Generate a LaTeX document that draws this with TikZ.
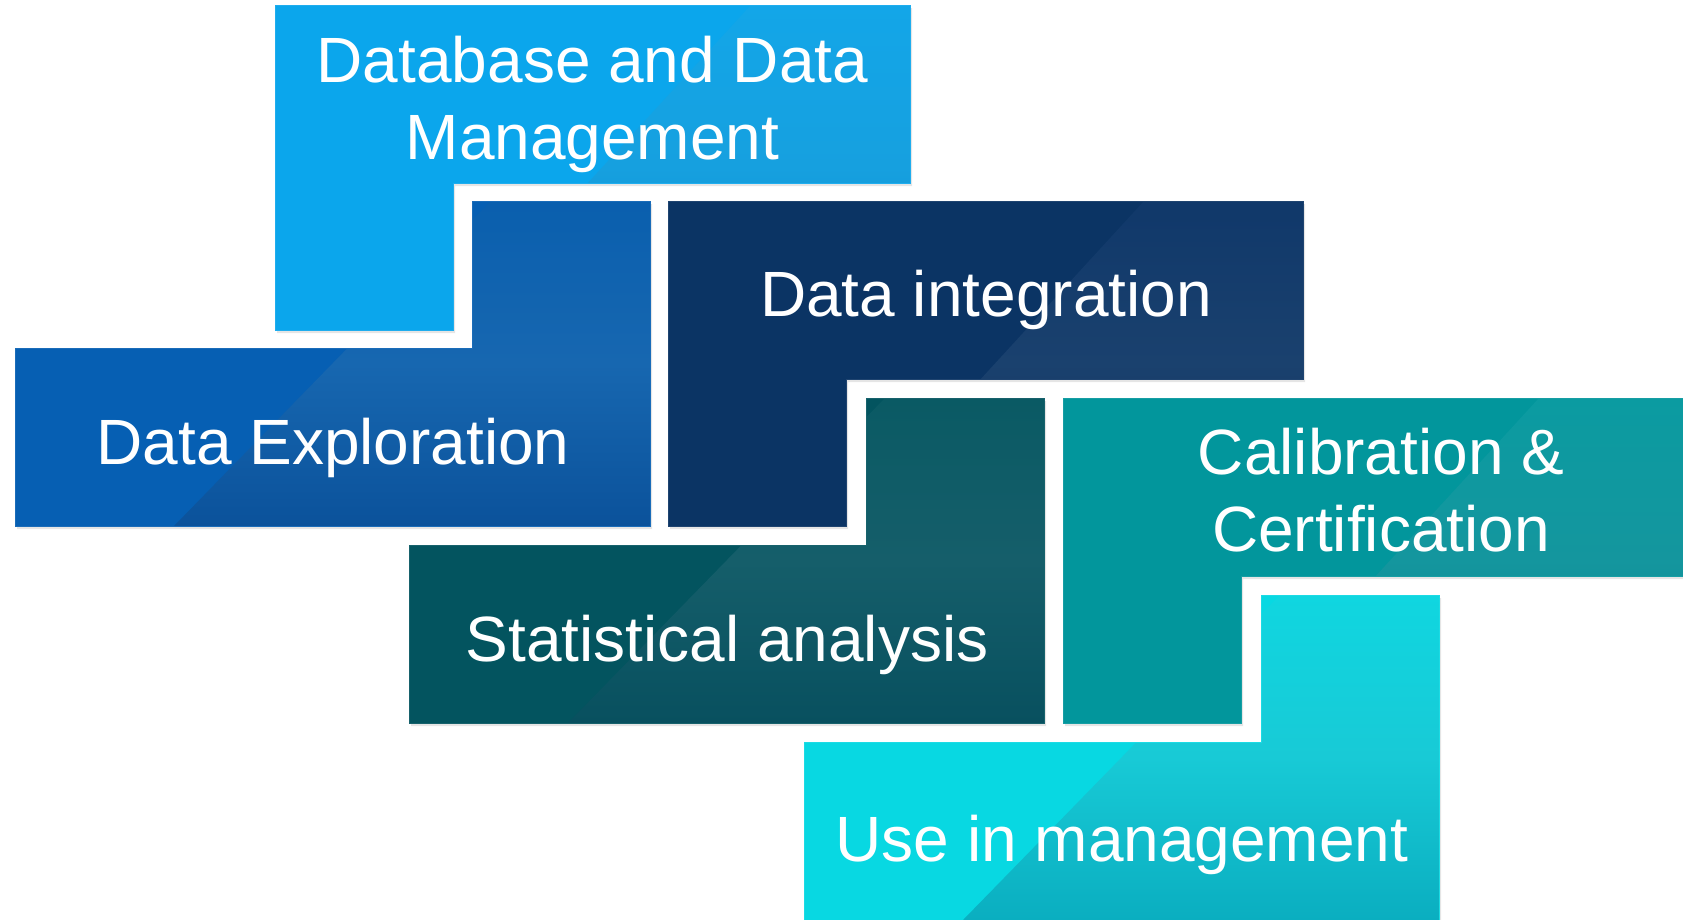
\documentclass[tikz,border=0pt]{standalone}
\usepackage{fontspec}
\setmainfont{Liberation Sans}
\usetikzlibrary{shadows}

% block colours: flat fill, then top / middle / bottom of the sheen
\definecolor{base1}{HTML}{0BA6EC}\definecolor{top1}{HTML}{13A6E8}\definecolor{mid1}{HTML}{16A0DF}\definecolor{deep1}{HTML}{0C88CB}
\definecolor{base2}{HTML}{065FB3}\definecolor{top2}{HTML}{0A5FAE}\definecolor{mid2}{HTML}{1767B0}\definecolor{deep2}{HTML}{0B529B}
\definecolor{base3}{HTML}{0B3464}\definecolor{top3}{HTML}{10386A}\definecolor{mid3}{HTML}{1A416E}\definecolor{deep3}{HTML}{0C2D59}
\definecolor{base4}{HTML}{03545F}\definecolor{top4}{HTML}{0A5A64}\definecolor{mid4}{HTML}{155E6A}\definecolor{deep4}{HTML}{08505F}
\definecolor{base5}{HTML}{02969C}\definecolor{top5}{HTML}{0B9BA1}\definecolor{mid5}{HTML}{14969E}\definecolor{deep5}{HTML}{0A7D89}
\definecolor{base6}{HTML}{08D8E2}\definecolor{top6}{HTML}{10D6E0}\definecolor{mid6}{HTML}{18CAD6}\definecolor{deep6}{HTML}{0AAEC0}

\begin{document}
\begin{tikzpicture}[x=1pt, y=-1pt,
    blocktext/.style={text=white, font=\fontsize{64}{77}\selectfont, inner sep=0pt},
    block/.style={fill=base#1, draw=base#1!92!white, line width=.8pt,
        drop shadow={shadow xshift=2pt, shadow yshift=-3pt, opacity=.2}},
    sheen/.style n args={4}{path picture={
        \shade[top color=top#1, bottom color=deep#1, middle color=mid#1]
            (#2+#4,#3+325) -- (#2+476,#3) -- (#2+640,#3) -- (#2+640,#3+325) -- cycle;}}]
    % Canvas
    \path[clip] (0,0) rectangle (1683,919);
    \fill[white] (0,0) rectangle (1683,919);
    % Bar on top, stem down on the left
    \foreach \i/\x/\y in {1/275/5, 3/668/201, 5/1063/398}
        \path[block=\i, sheen={\i}{\x}{\y}{178}] (\x,\y) -- ++(635,0) -- ++(0,178) -- ++(-457,0) -- ++(0,147) -- ++(-178,0) -- cycle;
    % Stem up on the right, bar at the bottom
    \foreach \i/\x/\y in {2/15/201, 4/409/398, 6/804/595}
        \path[block=\i, sheen={\i}{\x}{\y}{159}] (\x+457,\y) -- ++(178,0) -- ++(0,325) -- ++(-635,0) -- ++(0,-178) -- ++(457,0) -- cycle;
    % Labels
    \node[blocktext, align=center] (dbm) at (592.5,104) {Database and Data\\Management};
    \node[blocktext, anchor=base] (explore) at (333,464) {Data Exploration};
    \node[blocktext, anchor=base] (integrate) at (986,316) {Data integration};
    \node[blocktext, anchor=base] (stats) at (727,661) {Statistical analysis};
    \node[blocktext, align=center] (calib) at (1381,490.5) {Calibration \&\\Certification};
    \node[blocktext, anchor=base] (usage) at (1122,861) {Use in management};
\end{tikzpicture}
\end{document}
